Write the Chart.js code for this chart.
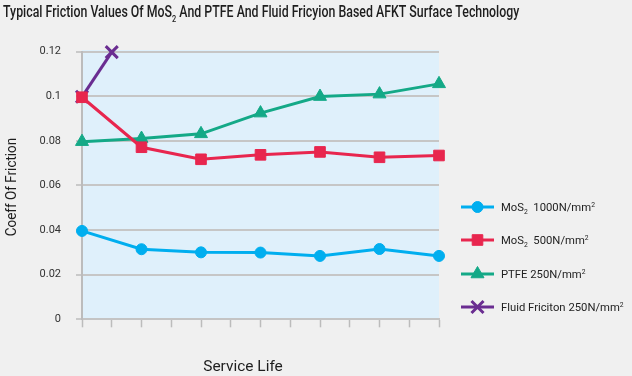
<!DOCTYPE html>
<html>
<head>
<meta charset="utf-8">
<script src="https://cdn.jsdelivr.net/npm/chart.js@4.4.1/dist/chart.umd.min.js"></script>
<style>
html, body { margin: 0; padding: 0; background: #f0f0f0; }
</style>
</head>
<body>
<canvas id="chart-friction" width="632" height="376"></canvas>
<script>
// service life steps (unlabelled on the x axis)
var lifeSteps = [0, 2, 4, 6, 8, 10, 12];
var fluidSteps = [0, 1];

var mos2Hi = [0.0396, 0.0314, 0.0300, 0.0299, 0.0284, 0.0315, 0.0284];
var mos2Lo = [0.0995, 0.0771, 0.0717, 0.0737, 0.0750, 0.0726, 0.0734];
var ptfe = [0.0796, 0.0810, 0.0831, 0.0924, 0.0998, 0.1009, 0.1055];
var fluid = [0.0997, 0.1197];

var seriesLabels = ["MoS_2  1000N/mm^2", "MoS_2  500N/mm^2", "PTFE 250N/mm^2", "Fluid Friciton 250N/mm^2"];
var chartTitle = "Typical Friction Values Of MoS_2 And PTFE And Fluid Fricyion Based AFKT Surface Technology";
var yTitle = "Coeff Of Friction";
var xTitle = "Service Life";

function toPoints(xs, ys) {
    var pts = [];
    for (let i = 0; i < xs.length; i++) {
        pts.push({ x: xs[i], y: ys[i] });
    }
    return pts;
}

function parseRich(s) {
    var out = [], buf = '';
    for (let i = 0; i < s.length; i++) {
        var c = s[i];
        if ((c === '_' || c === '^') && i + 1 < s.length) {
            if (buf) out.push([buf, 0]);
            buf = '';
            out.push([s[i + 1], c === '_' ? 1 : 2]);
            i++;
        } else {
            buf += c;
        }
    }
    if (buf) out.push([buf, 0]);
    return out;
}

// text with sub/superscripts, squeezed horizontally by sx
function drawRich(ctx, s, x, y, size, sx, align, weight) {
    var runs = parseRich(s);
    var fam = "Roboto, 'Noto Sans', sans-serif";
    var w = weight || 'normal';
    var total = 0;
    runs.forEach(function(r) {
        ctx.font = w + ' ' + (r[1] ? size * 0.6 : size) + 'px ' + fam;
        r.w = ctx.measureText(r[0]).width;
        total += r.w;
    });
    var start = align === 'center' ? -total / 2 : 0;
    ctx.save();
    ctx.translate(x, y);
    ctx.scale(sx, 1);
    ctx.textAlign = 'left';
    ctx.textBaseline = 'alphabetic';
    var cx = start;
    runs.forEach(function(r) {
        ctx.font = w + ' ' + (r[1] ? size * 0.6 : size) + 'px ' + fam;
        var dy = r[1] === 1 ? size * 0.28 : (r[1] === 2 ? -size * 0.38 : 0);
        ctx.fillText(r[0], cx, dy);
        cx += r.w;
    });
    ctx.restore();
}

var decor = {
    id: 'decor',
    beforeDraw: function(chart) {
        var ctx = chart.ctx, a = chart.chartArea;
        ctx.save();
        ctx.fillStyle = '#f0f0f0';
        ctx.fillRect(0, 0, chart.width, chart.height);
        ctx.fillStyle = '#dff0fb';
        ctx.fillRect(a.left, a.top - 1.5, a.right - a.left, a.bottom - a.top + 1.5);
        ctx.restore();
    },
    afterDraw: function(chart) {
        var ctx = chart.ctx;
        ctx.save();
        ctx.fillStyle = '#1e1e1e';
        drawRich(ctx, chartTitle, 3, 17, 16.5, 0.749, 'left', '500');

        ctx.save();
        ctx.translate(16, 187);
        ctx.rotate(-Math.PI / 2);
        drawRich(ctx, yTitle, 0, 0, 14, 0.96, 'center');
        ctx.restore();

        drawRich(ctx, xTitle, 243, 371, 15, 1.03, 'center');

        // legend: line sample with marker, then label
        var rows = [207, 240, 274, 307];
        chart.data.datasets.forEach(function(ds, i) {
            var y = rows[i];
            ctx.strokeStyle = ds.borderColor;
            ctx.fillStyle = ds.backgroundColor;
            ctx.lineWidth = 3;
            ctx.beginPath();
            ctx.moveTo(461, y);
            ctx.lineTo(494, y);
            ctx.stroke();
            ctx.lineWidth = ds.pointBorderWidth;
            Chart.helpers.drawPoint(ctx, {
                pointStyle: ds.pointStyle,
                radius: ds.pointRadius,
                borderWidth: ds.pointBorderWidth,
                rotation: 0
            }, 477.5, y);
            ctx.fillStyle = '#222';
            drawRich(ctx, ds.label, 501, y + 4, 11.5, 0.98, 'left');
        });
        ctx.restore();
    }
};

var ctx1 = document.getElementById("chart-friction").getContext("2d");

new Chart(ctx1, {
    type: 'line',
    data: {
        datasets: [{
            label: seriesLabels[0],
            data: toPoints(lifeSteps, mos2Hi),
            borderColor: '#00aeef',
            backgroundColor: '#00aeef',
            borderWidth: 3,
            pointStyle: 'circle',
            pointRadius: 5.5,
            pointBorderWidth: 1,
            clip: false
        }, {
            label: seriesLabels[1],
            data: toPoints(lifeSteps, mos2Lo),
            borderColor: '#e8264e',
            backgroundColor: '#e8264e',
            borderWidth: 3,
            pointStyle: 'rect',
            pointRadius: 7.5,
            pointBorderWidth: 1,
            clip: false
        }, {
            label: seriesLabels[2],
            data: toPoints(lifeSteps, ptfe),
            borderColor: '#14a987',
            backgroundColor: '#14a987',
            borderWidth: 3,
            pointStyle: 'triangle',
            pointRadius: 7.5,
            pointBorderWidth: 1,
            clip: false
        }, {
            label: seriesLabels[3],
            data: toPoints(fluidSteps, fluid),
            borderColor: '#6a2d91',
            backgroundColor: '#6a2d91',
            borderWidth: 3,
            pointStyle: 'crossRot',
            pointRadius: 8.5,
            pointBorderWidth: 3,
            clip: false
        }]
    },
    options: {
        responsive: false,
        animation: false,
        layout: {
            padding: { top: 51.5, right: 193, left: 0, bottom: 0 }
        },
        plugins: {
            legend: { display: false },
            title: { display: false },
            tooltip: { enabled: false }
        },
        scales: {
            x: {
                type: 'linear',
                min: 0,
                max: 12,
                afterFit: function(scale) { scale.height = 56.7; },
                grid: {
                    drawOnChartArea: false,
                    drawTicks: true,
                    tickLength: 8,
                    tickColor: '#bcbcbc',
                    tickWidth: 1.5
                },
                border: { display: true, color: '#c4c4c4', width: 2 },
                ticks: {
                    stepSize: 1,
                    autoSkip: false,
                    callback: function() { return ''; }
                }
            },
            y: {
                min: 0,
                max: 0.12,
                afterFit: function(scale) { scale.width = 82; },
                grid: {
                    color: '#c6c6c6',
                    lineWidth: 2,
                    drawTicks: true,
                    tickLength: 6,
                    tickColor: '#bcbcbc',
                    tickWidth: 1.5
                },
                border: { display: true, color: '#bcbcbc', width: 2 },
                ticks: {
                    stepSize: 0.02,
                    padding: 15,
                    color: '#333',
                    font: { family: 'Roboto', size: 11 },
                    callback: function(v) { return String(+v.toFixed(2)); }
                }
            }
        }
    },
    plugins: [decor]
});
</script>
</body>
</html>
